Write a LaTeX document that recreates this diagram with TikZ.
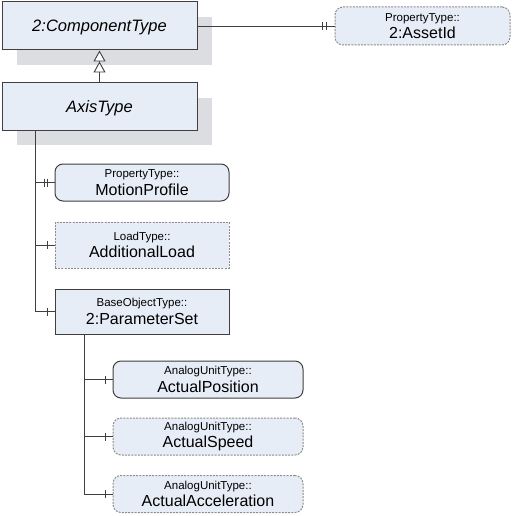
\documentclass[tikz,border=0pt]{standalone}
\usepackage{fontspec}
\setmainfont{Liberation Sans}
\usetikzlibrary{arrows.meta}
\usetikzlibrary{shadows}

\definecolor{boxfill}{HTML}{E7EDF7}
\definecolor{shadowgray}{HTML}{DCDDE1}
\definecolor{edgegray}{HTML}{3F3F3F}
\definecolor{dashgray}{HTML}{8C8C8C}
\newcommand{\tname}[2]{{\fontsize{11.5}{13}\selectfont #1}\\#2}

\begin{document}
\begin{tikzpicture}[x=1pt, y=-1pt,
		typebox/.style={
			draw=edgegray,
			fill=boxfill,
			line width=1pt,
			inner sep=0pt,
			text depth=0pt,
			minimum width=195pt,
			minimum height=48pt,
			font=\fontsize{16.5}{19}\selectfont\itshape,
			drop shadow={shadow xshift=15pt, shadow yshift=-15pt, fill=shadowgray, opacity=1}
		},
		member/.style={
			fill=boxfill,
			line width=1pt,
			inner sep=0pt,
			minimum width=174pt,
			minimum height=37pt,
			align=center,
			font=\fontsize{16}{17.5}\selectfont
		},
		mandatory/.style={draw=edgegray},
		optbox/.style={draw=dashgray, dash pattern=on 2pt off 1.2pt},
		conn/.style={draw=edgegray, line width=0.9pt}
	]
		\useasboundingbox (0,0) rectangle (515,516);
		
		% type hierarchy
		\node[typebox] (comp) at (99.5,26) {2:ComponentType};
		\node[typebox, minimum height=47pt] (axis) at (99.5,106.5) {AxisType};
		\draw[conn, -{Triangle[fill=white, length=11pt, width=12pt] Triangle[fill=white, length=11pt, width=12pt]}] (axis) -- (comp);
		
		\node[member, optbox, rounded corners=8pt, minimum width=175pt, minimum height=38pt] (asset) at (422.5,26) {\tname{PropertyType::}{2:AssetId}};
		\draw[conn] (comp) -- (asset);
		\draw[conn] ([xshift=-12pt]asset.west) ++(0,-4) -- ++(0,8);
		\draw[conn] ([xshift=-8pt]asset.west) ++(0,-4) -- ++(0,8);
		
		% components of AxisType
		\node[member, mandatory, rounded corners=8pt] (motion) at (142,182.5) {\tname{PropertyType::}{MotionProfile}};
		\node[member, optbox, minimum height=46pt] (load) at (142,245) {\tname{LoadType::}{AdditionalLoad}};
		\node[member, mandatory, minimum height=45pt] (param) at (142,311.5) {\tname{BaseObjectType::}{2:ParameterSet}};
		
		\coordinate (atrunk) at ([xshift=-64.5pt]axis.south);
		\draw[conn] (atrunk) |- (motion.west);
		\draw[conn] (atrunk) |- (load.west);
		\draw[conn] (atrunk) |- (param.west);
		\draw[conn] ([xshift=-10pt]motion.west) ++(0,-4) -- ++(0,8);
		\draw[conn] ([xshift=-7pt]motion.west) ++(0,-4) -- ++(0,8);
		\draw[conn] ([xshift=-7pt]load.west) ++(0,-4) -- ++(0,8);
		\draw[conn] ([xshift=-7pt]param.west) ++(0,-4) -- ++(0,8);
		
		% components of ParameterSet
		\node[member, mandatory, rounded corners=8pt, minimum width=190pt] (pos) at (208,379.5) {\tname{AnalogUnitType::}{ActualPosition}};
		\node[member, optbox, rounded corners=8pt, minimum width=190pt] (speed) at (208,436.5) {\tname{AnalogUnitType::}{ActualSpeed}};
		\node[member, optbox, rounded corners=8pt, minimum width=190pt] (accel) at (208,494) {\tname{AnalogUnitType::}{ActualAcceleration}};
		
		\coordinate (ptrunk) at ([xshift=-58pt]param.south);
		\draw[conn] (ptrunk) |- (pos.west);
		\draw[conn] (ptrunk) |- (speed.west);
		\draw[conn] (ptrunk) |- (accel.west);
		\draw[conn] ([xshift=-7pt]pos.west) ++(0,-4) -- ++(0,8);
		\draw[conn] ([xshift=-7pt]speed.west) ++(0,-4) -- ++(0,8);
		\draw[conn] ([xshift=-7pt]accel.west) ++(0,-4) -- ++(0,8);
	\end{tikzpicture}
\end{document}
